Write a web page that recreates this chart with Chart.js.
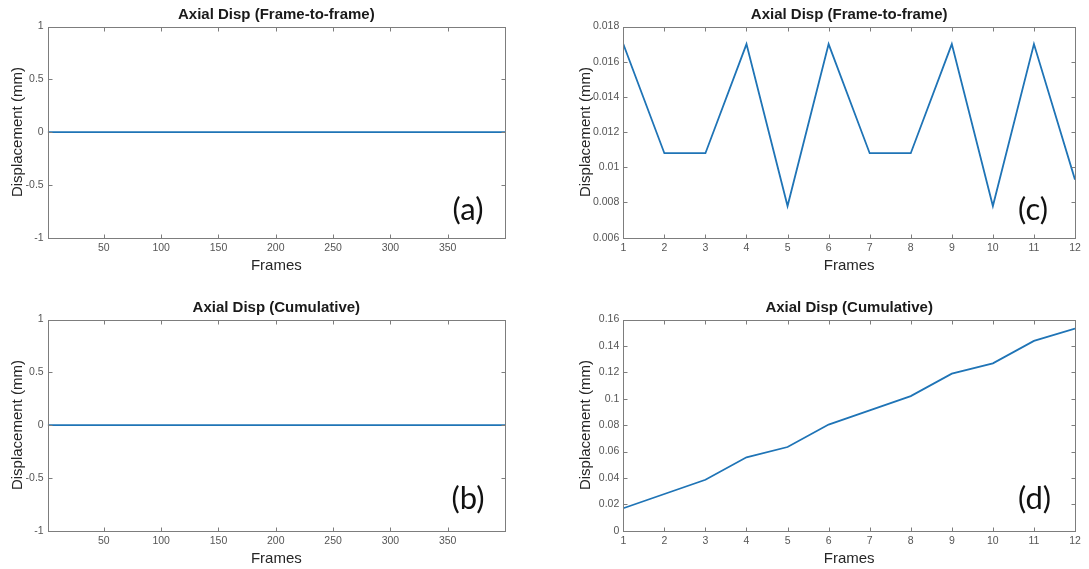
<!DOCTYPE html>
<html>
<head>
<meta charset="utf-8">
<title>Axial displacement</title>
<script src="https://cdn.jsdelivr.net/npm/chart.js@4.4.1/dist/chart.umd.min.js"></script>
<style>
  html, body { margin: 0; padding: 0; background: #fff; overflow: hidden; }
  .panel { position: absolute; }
</style>
</head>
<body>
<div class="panel" style="left:0px;top:0px"><canvas id="chartA" width="520" height="280"></canvas></div>
<div class="panel" style="left:0px;top:293px"><canvas id="chartB" width="520" height="280"></canvas></div>
<div class="panel" style="left:568px;top:0px"><canvas id="chartC" width="521" height="280"></canvas></div>
<div class="panel" style="left:568px;top:293px"><canvas id="chartD" width="521" height="280"></canvas></div>
<script>
// 400-frame run: displacement stays at zero the whole time
var framesAB = [1, 400];
var axialFrameA = [0, 0];
var axialCumB = [0, 0];

// 12-frame run
var framesCD = [1, 2, 3, 4, 5, 6, 7, 8, 9, 10, 11, 12];
var axialFrameC = [0.0170, 0.0108, 0.0108, 0.0170, 0.0078, 0.0170, 0.0108, 0.0108, 0.0170, 0.0078, 0.0170, 0.0093];
var axialCumD = [0.0170, 0.0278, 0.0386, 0.0556, 0.0634, 0.0804, 0.0912, 0.1020, 0.1190, 0.1268, 0.1438, 0.1531];

// tick labels
var xTicksAB = [50, 100, 150, 200, 250, 300, 350];
var yTicksAB = [-1, -0.5, 0, 0.5, 1];
var xTicksCD = [1, 2, 3, 4, 5, 6, 7, 8, 9, 10, 11, 12];
var yTicksC = [0.006, 0.008, 0.01, 0.012, 0.014, 0.016, 0.018];
var yTicksD = [0, 0.02, 0.04, 0.06, 0.08, 0.1, 0.12, 0.14, 0.16];

var FAMILY = "'Liberation Sans', Arial, sans-serif";
var TICK_FONT = { family: FAMILY, size: 10.5 };
var LABEL_FONT = { family: FAMILY, size: 15 };
var LINE_BLUE = '#1f74b6';

// matlab-ish axes: box, inward ticks on all sides, title and panel letter
var axesBox = {
    id: 'axesBox',
    afterDraw: function(chart, args, opts) {
        var ctx = chart.ctx, a = chart.chartArea
        var x = chart.scales.x, y = chart.scales.y
        var L = Math.round(a.left) + 0.5, R = Math.round(a.right) + 0.5
        var T = Math.round(a.top) + 0.5, B = Math.round(a.bottom) + 0.5
        ctx.save()
        ctx.strokeStyle = '#7d7d7d'
        ctx.lineWidth = 1
        ctx.beginPath()
        x.ticks.forEach(function(t) {
            var px = Math.round(x.getPixelForValue(t.value)) + 0.5
            ctx.moveTo(px, B); ctx.lineTo(px, B - 4)
            ctx.moveTo(px, T); ctx.lineTo(px, T + 4)
        })
        y.ticks.forEach(function(t) {
            var py = Math.round(y.getPixelForValue(t.value)) + 0.5
            ctx.moveTo(L, py); ctx.lineTo(L + 4, py)
            ctx.moveTo(R, py); ctx.lineTo(R - 4, py)
        })
        ctx.stroke()
        ctx.strokeRect(L, T, R - L, B - T)

        ctx.textAlign = 'center'
        ctx.textBaseline = 'middle'
        ctx.fillStyle = '#1a1a1a'
        ctx.font = 'bold 15px ' + FAMILY
        ctx.fillText(opts.title, (a.left + a.right) / 2, a.top - 11.5)

        ctx.fillStyle = '#111'
        ctx.font = '31px Lato, sans-serif'
        ctx.fillText(opts.letter, a.right - opts.dx, a.bottom - opts.dy)
        ctx.restore()
    }
}

function makePanel(canvasId, frames, values, xTicks, yTicks, xMin, xMax, yMin, yMax, yWidth, padRight, box) {
    var points = frames.map(function(f, i) { return { x: f, y: values[i] } })
    return new Chart(document.getElementById(canvasId), {
        type: 'line',
        data: {
            datasets: [{
                data: points,
                borderColor: LINE_BLUE,
                borderWidth: 1.8,
                pointRadius: 0,
                tension: 0,
                fill: false
            }]
        },
        options: {
            responsive: false,
            animation: false,
            devicePixelRatio: 1,
            layout: { padding: { top: 26.5, right: padRight, left: 0, bottom: 0 } },
            plugins: {
                legend: { display: false },
                tooltip: { enabled: false },
                axesBox: box
            },
            scales: {
                x: {
                    type: 'linear',
                    min: xMin,
                    max: xMax,
                    grid: { display: false, drawTicks: false },
                    border: { display: false },
                    afterBuildTicks: function(s) { s.ticks = xTicks.map(function(v) { return { value: v } }) },
                    afterFit: function(s) { s.height = 42.3 },
                    ticks: {
                        font: TICK_FONT, color: '#555', padding: 4,
                        maxRotation: 0, autoSkip: false,
                        callback: function(v) { return String(v) }
                    },
                    title: {
                        display: true, text: 'Frames', font: LABEL_FONT, color: '#262626',
                        padding: { top: 0, bottom: 5.3 }
                    }
                },
                y: {
                    type: 'linear',
                    min: yMin,
                    max: yMax,
                    grid: { display: false, drawTicks: false },
                    border: { display: false },
                    afterBuildTicks: function(s) { s.ticks = yTicks.map(function(v) { return { value: v } }) },
                    afterFit: function(s) { s.width = yWidth },
                    ticks: {
                        font: TICK_FONT, color: '#555', padding: 4,
                        autoSkip: false,
                        callback: function(v) { return String(v) }
                    },
                    title: {
                        display: true, text: 'Displacement (mm)', font: LABEL_FONT, color: '#262626',
                        padding: { top: 9, bottom: 0 }
                    }
                }
            }
        },
        plugins: [axesBox]
    })
}

makePanel('chartA', framesAB, axialFrameA, xTicksAB, yTicksAB, 1, 400, -1, 1, 47.7, 15,
    { title: 'Axial Disp (Frame-to-frame)', letter: '(a)', dx: 37, dy: 28 })
makePanel('chartB', framesAB, axialCumB, xTicksAB, yTicksAB, 1, 400, -1, 1, 47.7, 15,
    { title: 'Axial Disp (Cumulative)', letter: '(b)', dx: 37, dy: 32 })
makePanel('chartC', framesCD, axialFrameC, xTicksCD, yTicksC, 1, 12, 0.006, 0.018, 55.3, 14,
    { title: 'Axial Disp (Frame-to-frame)', letter: '(c)', dx: 42, dy: 28 })
makePanel('chartD', framesCD, axialCumD, xTicksCD, yTicksD, 1, 12, 0, 0.16, 55.3, 14,
    { title: 'Axial Disp (Cumulative)', letter: '(d)', dx: 40.5, dy: 32 })
</script>
</body>
</html>
